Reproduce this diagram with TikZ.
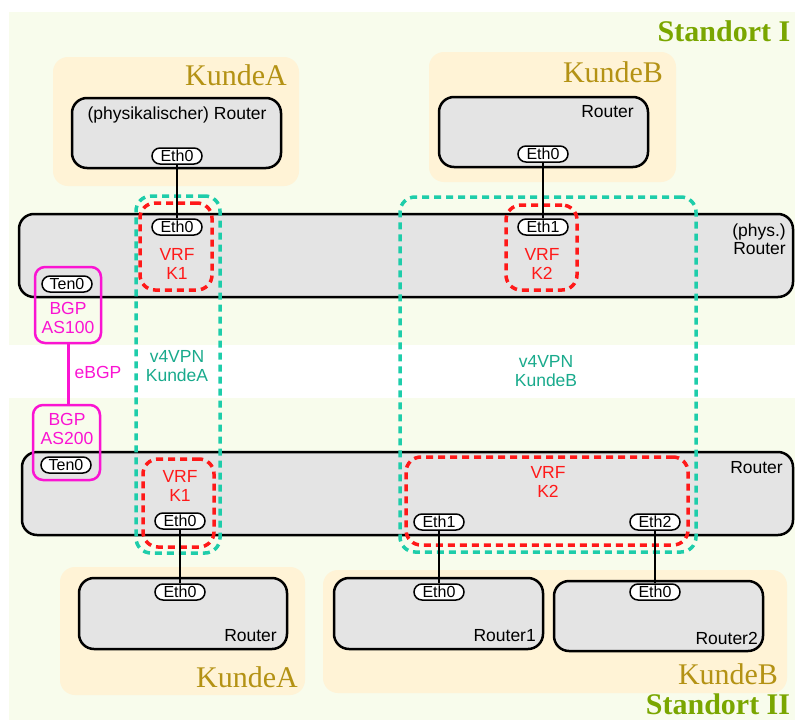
\documentclass[tikz,border=0pt]{standalone}
\usepackage{fontspec}
\setmainfont{Liberation Sans}
\newfontfamily\kundefont{Liberation Serif}
\usepackage{tikz}
\usetikzlibrary{
  positioning,
  fit
}

\definecolor{standortbg}{RGB}{248,252,236}
\definecolor{kundebg}{RGB}{255,243,214}
\definecolor{kundetext}{RGB}{180,146,20}
\definecolor{standorttext}{RGB}{122,166,0}
\definecolor{routergrau}{RGB}{228,228,228}
\definecolor{vpnfarbe}{RGB}{30,205,170}
\definecolor{vpntext}{RGB}{25,170,140}
\definecolor{vrfrot}{RGB}{255,25,25}
\definecolor{bgpmagenta}{RGB}{250,20,210}

\begin{document}
\begin{tikzpicture}[
x=1pt, y=-1pt,
standort/.style={
fill=standortbg,
inner sep=0pt
},
kunde/.style={
fill=kundebg,
rounded corners=15pt,
inner sep=0pt
},
router/.style={
draw,
line width=2.5pt,
fill=routergrau,
rounded corners=15pt,
inner sep=0pt
},
port/.style={
draw,
line width=1.5pt,
fill=white,
rounded corners=8pt,
minimum width=50pt,
minimum height=16pt,
inner sep=0pt,
font=\fontsize{16}{16}\selectfont
},
rtext/.style={
font=\fontsize{17.5}{18.5}\selectfont,
align=right,
inner sep=0pt
},
kname/.style={
font=\kundefont\fontsize{30}{30}\selectfont,
text=kundetext,
inner sep=0pt
},
sname/.style={
font=\kundefont\bfseries\fontsize{30}{30}\selectfont,
text=standorttext,
inner sep=0pt
},
vrf/.style={
draw=vrfrot,
line width=3.5pt,
dash pattern=on 7pt off 5pt,
rounded corners=15pt,
inner sep=0pt
},
vpn/.style={
draw=vpnfarbe,
line width=3.5pt,
dash pattern=on 7pt off 5pt,
rounded corners=15pt,
inner sep=0pt
},
bgp/.style={
draw=bgpmagenta,
line width=2.5pt,
rounded corners=10pt,
inner sep=0pt
},
vtext/.style={
font=\fontsize{17.5}{18.5}\selectfont,
align=center,
inner sep=0pt
},
kabel/.style={line width=2.2pt}
]

\useasboundingbox (0,0) rectangle (795,720);

% Standorte
\node[standort,fit={(9,12) (795,345)}] (st1) {};
\node[standort,fit={(9,398) (795,720)}] (st2) {};
\node[sname] (st1name) at (724,31) {Standort I};
\node[sname] (st2name) at (718,704) {Standort II};

% Kunden
\node[kunde,fit={(53,57) (299,186)}] (kA1) {};
\node[kunde,fit={(429,52) (676,182)}] (kB1) {};
\node[kunde,fit={(60,567) (305,695)}] (kA2) {};
\node[kunde,fit={(323,570) (787,693)}] (kB2) {};
\node[kname] (kA1name) at (236,75) {KundeA};
\node[kname] (kB1name) at (613,72) {KundeB};
\node[kname] (kA2name) at (247,677) {KundeA};
\node[kname] (kB2name) at (728,674) {KundeB};

% Router
\node[router,fit={(72,98) (281,168)}] (rA1) {};
\node[router,fit={(439,97) (648,167)}] (rB1) {};
\node[router,fit={(19,214) (793,297)}] (rP1) {};
\node[router,fit={(22,452) (793,535)}] (rP2) {};
\node[router,fit={(79,578) (287,649)}] (rA2) {};
\node[router,fit={(334,578) (543,649)}] (r1) {};
\node[router,fit={(554,581) (763,651)}] (r2) {};

\node[rtext] (rA1txt) at (177,115) {(physikalischer) Router};
\node[rtext,anchor=east] (rB1txt) at (634,112) {Router};
\node[rtext,anchor=east] (rP1txt) at (786,239) {(phys.)\\Router};
\node[rtext,anchor=east] (rP2txt) at (783,468) {Router};
\node[rtext,anchor=east] (rA2txt) at (277,636) {Router};
\node[rtext,anchor=east] (r1txt) at (536,636) {Router1};
\node[rtext,anchor=east] (r2txt) at (758,638) {Router2};

% Ports
\node[port] (pA1) at (177,156) {Eth0};
\node[port] (pB1) at (543,154) {Eth0};
\node[port] (pK1o) at (177,227) {Eth0};
\node[port] (pK2o) at (543,227) {Eth1};
\node[port] (ten0o) at (67,284) {Ten0};
\node[port] (ten0u) at (66,465) {Ten0};
\node[port] (pK1u) at (180,521) {Eth0};
\node[port] (eth1u) at (439,522) {Eth1};
\node[port] (eth2u) at (655,522) {Eth2};
\node[port] (pA2) at (180,592) {Eth0};
\node[port] (pR1) at (439,592) {Eth0};
\node[port] (pR2) at (655,592) {Eth0};

% VRFs
\node[vrf,fit={(140,203) (212,290)}] (vrf1o) {};
\node[vrf,fit={(506,205) (577,290)}] (vrf2o) {};
\node[vrf,fit={(143,459) (214,547)}] (vrf1u) {};
\node[vrf,fit={(406,457) (688,545)}] (vrf2u) {};
\node[vtext,text=vrfrot] (vrf1otxt) at (177,264) {VRF\\K1};
\node[vtext,text=vrfrot] (vrf2otxt) at (542,264) {VRF\\K2};
\node[vtext,text=vrfrot] (vrf1utxt) at (180,486) {VRF\\K1};
\node[vtext,text=vrfrot] (vrf2utxt) at (548,482) {VRF\\K2};

% VPNs
\node[vpn,fit={(136,196) (220,553)}] (vpnA) {};
\node[vpn,fit={(400,197) (696,552)}] (vpnB) {};
\node[vtext,text=vpntext] (vpnAtxt) at (177,366) {v4VPN\\KundeA};
\node[vtext,text=vpntext] (vpnBtxt) at (546,371) {v4VPN\\KundeB};

% BGP
\node[bgp,fit={(35,267) (101,343)}] (as100) {};
\node[bgp,fit={(33,405) (100,480)}] (as200) {};
\node[vtext,text=bgpmagenta] (as100txt) at (68,318) {BGP\\AS100};
\node[vtext,text=bgpmagenta] (as200txt) at (67,429) {BGP\\AS200};
\draw[bgp,line width=3pt] (as100.south) -- (as100.south |- as200.north);
\node[vtext,text=bgpmagenta] (ebgp) at (98,372) {eBGP};

% Kabel
\draw[kabel] (pA1.south) -- (pK1o.north);
\draw[kabel] (pB1.south) -- (pK2o.north);
\draw[kabel] (pK1u.south) -- (pA2.north);
\draw[kabel] (eth1u.south) -- (pR1.north);
\draw[kabel] (eth2u.south) -- (pR2.north);

\end{tikzpicture}
\end{document}
